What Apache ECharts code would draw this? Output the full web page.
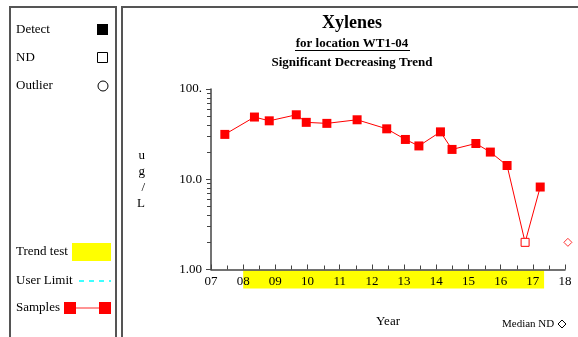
<!DOCTYPE html>
<html>
<head>
<meta charset="utf-8">
<script src="https://cdn.jsdelivr.net/npm/echarts@6/dist/echarts.min.js"></script>
<style>
html,body{margin:0;padding:0;background:#fff;}
#c{width:578px;height:337px;}
</style>
</head>
<body>
<div id="c"></div>
<script>
// ---- data ----
const sampleYears = [2007.43, 2008.35, 2008.81, 2009.65, 2009.96, 2010.60, 2011.54, 2012.46, 2013.04, 2013.46, 2014.13, 2014.49, 2015.23, 2015.68, 2016.20, 2016.76, 2017.23];
const sampleValues = [31.4, 48.9, 44.4, 51.8, 42.7, 41.6, 45.6, 36.2, 27.6, 23.4, 33.5, 21.4, 24.9, 20.0, 14.2, 2.0, 8.2];
const nonDetect = [false, false, false, false, false, false, false, false, false, false, false, false, false, false, false, true, false];
const medianND = [2018.09, 2.0];
const trendRange = [2008.0, 2017.35];
const xRange = [2007, 2018];
const yRange = [1, 100];
const yMinorTicks = [2, 3, 4, 5, 6, 7, 8, 9, 20, 30, 40, 50, 60, 70, 80, 90];
const xMinorTicks = [2007.5, 2008.5, 2009.5, 2010.5, 2011.5, 2012.5, 2013.5, 2014.5, 2015.5, 2016.5, 2017.5];
const yTickLabels = {1: '1.00', 10: '10.0', 100: '100.'};

const serif = '"Liberation Serif", "DejaVu Serif", serif';
const axisColor = '#444';
const chart = echarts.init(document.getElementById('c'), null, {renderer: 'canvas'});

const seriesData = sampleYears.map((x, i) => {
  const item = {value: [x, sampleValues[i]]};
  if (nonDetect[i]) {
    item.symbolSize = 8;
    item.itemStyle = {color: '#fff', borderColor: '#ff0000', borderWidth: 1};
  }
  return item;
});

const staticGraphics = [
  // frames
  {type: 'rect', shape: {x: 10, y: 7, width: 106, height: 340}, style: {fill: 'none', stroke: '#555', lineWidth: 2}, silent: true},
  {type: 'rect', shape: {x: 122, y: 7, width: 470, height: 340}, style: {fill: 'none', stroke: '#555', lineWidth: 2}, silent: true},
  // legend texts
  {type: 'text', x: 16, y: 30, style: {text: 'Detect', font: '13px ' + serif, fill: '#000', textVerticalAlign: 'middle'}},
  {type: 'rect', shape: {x: 97, y: 24, width: 11, height: 11}, style: {fill: '#000'}},
  {type: 'text', x: 16, y: 58, style: {text: 'ND', font: '13px ' + serif, fill: '#000', textVerticalAlign: 'middle'}},
  {type: 'rect', shape: {x: 97.5, y: 52.5, width: 10, height: 10}, style: {fill: '#fff', stroke: '#000', lineWidth: 1}},
  {type: 'text', x: 16, y: 86, style: {text: 'Outlier', font: '13px ' + serif, fill: '#000', textVerticalAlign: 'middle'}},
  {type: 'circle', shape: {cx: 103, cy: 86, r: 5}, style: {fill: '#fff', stroke: '#000', lineWidth: 1}},
  {type: 'text', x: 16, y: 252, style: {text: 'Trend test', font: '13px ' + serif, fill: '#000', textVerticalAlign: 'middle'}},
  {type: 'rect', shape: {x: 72, y: 243, width: 39, height: 18}, style: {fill: '#ffff00'}},
  {type: 'text', x: 16, y: 281, style: {text: 'User Limit', font: '13px ' + serif, fill: '#000', textVerticalAlign: 'middle'}},
  {type: 'line', shape: {x1: 79, y1: 281, x2: 111, y2: 281}, style: {stroke: '#00ffff', lineWidth: 1.5, lineDash: [5, 5]}},
  {type: 'text', x: 16, y: 308, style: {text: 'Samples', font: '13px ' + serif, fill: '#000', textVerticalAlign: 'middle'}},
  {type: 'line', shape: {x1: 70, y1: 308, x2: 105, y2: 308}, style: {stroke: '#ff7070', lineWidth: 1.5}},
  {type: 'rect', shape: {x: 64, y: 302, width: 12, height: 12}, style: {fill: '#ff0000'}},
  {type: 'rect', shape: {x: 99, y: 302, width: 12, height: 12}, style: {fill: '#ff0000'}},
  // titles
  {type: 'text', x: 352, y: 23, style: {text: 'Xylenes', font: 'bold 18px ' + serif, fill: '#000', textAlign: 'center', textVerticalAlign: 'middle'}},
  {type: 'text', x: 352, y: 44, style: {text: 'for location WT1-04', font: 'bold 13px ' + serif, fill: '#000', textAlign: 'center', textVerticalAlign: 'middle'}},
  {type: 'line', shape: {x1: 295, y1: 50.5, x2: 410, y2: 50.5}, style: {stroke: '#000', lineWidth: 1}},
  {type: 'text', x: 352, y: 63, style: {text: 'Significant Decreasing Trend', font: 'bold 13px ' + serif, fill: '#000', textAlign: 'center', textVerticalAlign: 'middle'}},
  // median ND note
  {type: 'text', x: 502, y: 324, style: {text: 'Median ND', font: '11px ' + serif, fill: '#000', textVerticalAlign: 'middle'}},
  {type: 'polygon', shape: {points: [[562, 320], [566, 324], [562, 328], [558, 324]]}, style: {fill: '#fff', stroke: '#000', lineWidth: 1}}
];

const option = {
  animation: false,
  backgroundColor: '#fff',
  grid: {left: 211, right: 13, top: 89, bottom: 67.5, containLabel: false},
  xAxis: {
    type: 'value', min: xRange[0], max: xRange[1], interval: 1,
    name: 'Year', nameLocation: 'middle', nameGap: 46,
    nameTextStyle: {fontFamily: serif, fontSize: 13, color: '#000'},
    axisLine: {show: true, lineStyle: {color: axisColor, width: 1.5}},
    axisTick: {show: true, inside: true, length: 5, lineStyle: {color: axisColor, width: 1}},
    splitLine: {show: false},
    axisLabel: {fontFamily: serif, fontSize: 13, color: '#000', margin: 6,
      formatter: v => String(Math.round(v) % 100).padStart(2, '0')}
  },
  yAxis: {
    type: 'log', logBase: 10, min: yRange[0], max: yRange[1],
    name: 'u\ng\n/\nL', nameLocation: 'middle', nameRotate: 0, nameGap: 66,
    nameTextStyle: {fontFamily: serif, fontSize: 13, color: '#000', lineHeight: 16},
    axisLine: {show: true, lineStyle: {color: axisColor, width: 1.5}},
    axisTick: {show: true, inside: false, length: 5, lineStyle: {color: axisColor, width: 1}},
    splitLine: {show: false},
    axisLabel: {fontFamily: serif, fontSize: 13, color: '#000', margin: 9,
      formatter: v => yTickLabels[Math.round(v)] || ''}
  },
  graphic: {elements: staticGraphics},
  series: [
    {
      type: 'line', name: 'Samples', data: seriesData,
      symbol: 'rect', symbolSize: 9, showSymbol: true,
      lineStyle: {color: '#ff0000', width: 1},
      itemStyle: {color: '#ff0000'},
      clip: false, z: 5
    },
    {
      type: 'scatter', name: 'Median ND', data: [medianND],
      symbol: 'diamond', symbolSize: 8, clip: false,
      itemStyle: {color: '#fff', borderColor: '#ff0000', borderWidth: 1}, z: 5
    }
  ]
};
chart.setOption(option);

// elements placed through the axis scales
const toPx = (x, y) => chart.convertToPixel({xAxisIndex: 0, yAxisIndex: 0}, [x, y]);
const extra = [];
const p0 = toPx(trendRange[0], yRange[0]);
const p1 = toPx(trendRange[1], yRange[0]);
extra.push({type: 'rect', z: -1, shape: {x: p0[0], y: p0[1] + 1, width: p1[0] - p0[0], height: 18}, style: {fill: '#ffff00'}});
yMinorTicks.forEach(v => {
  const p = toPx(xRange[0], v);
  const yy = Math.round(p[1]) + 0.5;
  extra.push({type: 'line', shape: {x1: p[0] - 4, y1: yy, x2: p[0], y2: yy}, style: {stroke: axisColor, lineWidth: 1}});
});
xMinorTicks.forEach(v => {
  const p = toPx(v, yRange[0]);
  const xx = Math.round(p[0]) + 0.5;
  extra.push({type: 'line', shape: {x1: xx, y1: p[1], x2: xx, y2: p[1] - 4}, style: {stroke: axisColor, lineWidth: 1}});
});
chart.setOption({graphic: {elements: staticGraphics.concat(extra)}});
</script>
</body>
</html>
